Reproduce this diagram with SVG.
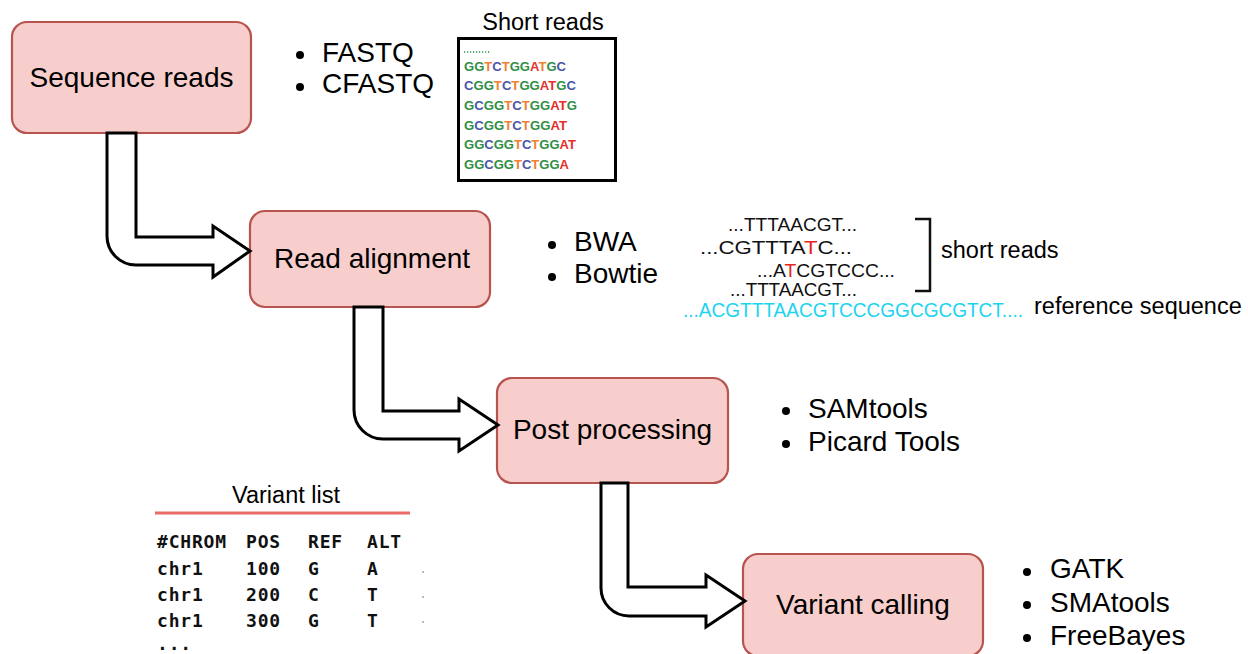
<svg xmlns="http://www.w3.org/2000/svg" width="1248" height="654" viewBox="0 0 1248 654">
<style>
.box{fill:#f8cecc;stroke:#b85450;stroke-width:2.2}
.lbl{font-family:"Liberation Sans",Arial,sans-serif;font-size:28px;fill:#000}
.lblc{text-anchor:middle}
.sm{font-family:"Liberation Sans",Arial,sans-serif;font-size:23.5px;fill:#000}
.arrow{fill:#fff;stroke:#000;stroke-width:3;stroke-linejoin:miter}
.seq{font-family:"Liberation Sans",Arial,sans-serif;font-size:12px;font-weight:bold}
.g{fill:#2f8f45}.t{fill:#f0812f}.c{fill:#4b57a8}.a{fill:#e5302b}
.aln{font-family:"Liberation Sans Narrow","Liberation Sans",Arial,sans-serif;font-size:19px;fill:#111}
.mono{font-family:"DejaVu Sans Mono","Liberation Mono",monospace;font-size:18px;font-weight:bold;letter-spacing:0.8px;fill:#111}
</style>

<g id="node-sequence-reads">
<rect class="box" x="12" y="22" width="239" height="111" rx="15"/>
<text class="lbl lblc" x="131.5" y="87">Sequence reads</text>
</g>
<g id="node-read-alignment">
<rect class="box" x="250" y="211" width="240" height="96" rx="15"/>
<text class="lbl lblc" x="372" y="268">Read alignment</text>
</g>
<g id="node-post-processing">
<rect class="box" x="497" y="378" width="231" height="105" rx="15"/>
<text class="lbl lblc" x="612.5" y="439">Post processing</text>
</g>
<g id="node-variant-calling">
<rect class="box" x="743" y="554" width="240" height="102" rx="15"/>
<text class="lbl lblc" x="863" y="614">Variant calling</text>
</g>

<g id="connectors">
<path class="arrow" d="M136,133 L136,237 L213,237 L213,226 L250,251 L213,277 L213,265 L136,265 A29,29 0 0 1 107,236 L107,133 Z"/>
<path class="arrow" d="M383,307 L383,411 L459,411 L459,399 L498,425 L459,451 L459,439 L383,439 A29,29 0 0 1 354,410 L354,307 Z"/>
<path class="arrow" d="M628,483 L628,587 L706,587 L706,575 L745,601 L706,627 L706,616 L629,616 A28,28 0 0 1 601,588 L601,483 Z"/>
</g>

<g id="bullets-sequence-reads">
<circle cx="300" cy="55" r="4"/><text class="lbl" x="322" y="62">FASTQ</text>
<circle cx="300" cy="87" r="4"/><text class="lbl" x="322" y="93">CFASTQ</text>
</g>
<g id="bullets-read-alignment">
<circle cx="552" cy="245" r="4"/><text class="lbl" x="574" y="251">BWA</text>
<circle cx="552" cy="277" r="4"/><text class="lbl" x="574" y="283">Bowtie</text>
</g>
<g id="bullets-post-processing">
<circle cx="786" cy="411" r="4"/><text class="lbl" x="808" y="418">SAMtools</text>
<circle cx="786" cy="444" r="4"/><text class="lbl" x="808" y="451">Picard Tools</text>
</g>
<g id="bullets-variant-calling">
<circle cx="1027" cy="572" r="4"/><text class="lbl" x="1050" y="578">GATK</text>
<circle cx="1027" cy="605" r="4"/><text class="lbl" x="1050" y="612">SMAtools</text>
<circle cx="1027" cy="638" r="4"/><text class="lbl" x="1050" y="645">FreeBayes</text>
</g>

<g id="short-reads-panel">
<text class="sm" x="543" y="30" text-anchor="middle">Short reads</text>
<rect x="458.5" y="38.5" width="157" height="142" fill="#fff" stroke="#000" stroke-width="3"/>
<line x1="464" y1="52" x2="491" y2="52" stroke="#2f8f45" stroke-width="1.3" stroke-dasharray="1.2,1.8"/>
<text class="seq" x="464" y="70.5" textLength="102" lengthAdjust="spacingAndGlyphs"><tspan class="g">GG</tspan><tspan class="t">T</tspan><tspan class="c">C</tspan><tspan class="t">T</tspan><tspan class="g">GG</tspan><tspan class="a">A</tspan><tspan class="t">T</tspan><tspan class="g">G</tspan><tspan class="c">C</tspan></text>
<text class="seq" x="464" y="90.3" textLength="112" lengthAdjust="spacingAndGlyphs"><tspan class="c">C</tspan><tspan class="g">GG</tspan><tspan class="t">T</tspan><tspan class="c">C</tspan><tspan class="t">T</tspan><tspan class="g">GG</tspan><tspan class="a">AT</tspan><tspan class="g">G</tspan><tspan class="c">C</tspan></text>
<text class="seq" x="464" y="110" textLength="113" lengthAdjust="spacingAndGlyphs"><tspan class="g">G</tspan><tspan class="c">C</tspan><tspan class="g">GG</tspan><tspan class="t">T</tspan><tspan class="c">C</tspan><tspan class="t">T</tspan><tspan class="g">GG</tspan><tspan class="a">AT</tspan><tspan class="g">G</tspan></text>
<text class="seq" x="464" y="129.7" textLength="103" lengthAdjust="spacingAndGlyphs"><tspan class="g">G</tspan><tspan class="c">C</tspan><tspan class="g">GG</tspan><tspan class="t">T</tspan><tspan class="c">C</tspan><tspan class="t">T</tspan><tspan class="g">GG</tspan><tspan class="a">AT</tspan></text>
<text class="seq" x="464" y="149.4" textLength="112" lengthAdjust="spacingAndGlyphs"><tspan class="g">GG</tspan><tspan class="c">C</tspan><tspan class="g">GG</tspan><tspan class="t">T</tspan><tspan class="c">C</tspan><tspan class="t">T</tspan><tspan class="g">GG</tspan><tspan class="a">AT</tspan></text>
<text class="seq" x="464" y="169" textLength="105" lengthAdjust="spacingAndGlyphs"><tspan class="g">GG</tspan><tspan class="c">C</tspan><tspan class="g">GG</tspan><tspan class="t">T</tspan><tspan class="c">C</tspan><tspan class="t">T</tspan><tspan class="g">GG</tspan><tspan class="a">A</tspan></text>
</g>

<g id="alignment-panel">
<text class="aln" x="728" y="231" textLength="129" lengthAdjust="spacingAndGlyphs">...TTTAACGT...</text>
<text class="aln" x="700" y="254" textLength="152" lengthAdjust="spacingAndGlyphs">...CGTTTA<tspan fill="#e8241f">T</tspan>C...</text>
<text class="aln" x="757" y="277" textLength="138" lengthAdjust="spacingAndGlyphs">...A<tspan fill="#e8241f">T</tspan>CGTCCC...</text>
<text class="aln" x="730" y="296" textLength="127" lengthAdjust="spacingAndGlyphs">...TTTAACGT...</text>
<text class="aln" x="683" y="317" textLength="340" lengthAdjust="spacingAndGlyphs" style="fill:#1cd4ef;font-size:20px">...ACGTTTAACGTCCCGGCGCGTCT....</text>
<path d="M915,219 L930,219 L930,291 L915,291" fill="none" stroke="#111" stroke-width="2.5"/>
<text class="sm" x="941" y="258">short reads</text>
<text class="sm" x="1034" y="314">reference sequence</text>
</g>

<g id="variant-list-panel">
<text class="sm" x="286" y="503" text-anchor="middle">Variant list</text>
<line x1="155" y1="513" x2="410" y2="513" stroke="#ea6b66" stroke-width="3"/>
<text class="mono" x="157" y="548">#CHROM</text><text class="mono" x="246" y="548">POS</text><text class="mono" x="308" y="548">REF</text><text class="mono" x="367" y="548">ALT</text>
<text class="mono" x="157" y="574.5">chr1</text><text class="mono" x="246" y="574.5">100</text><text class="mono" x="308" y="574.5">G</text><text class="mono" x="367" y="574.5">A</text>
<text class="mono" x="157" y="601">chr1</text><text class="mono" x="246" y="601">200</text><text class="mono" x="308" y="601">C</text><text class="mono" x="367" y="601">T</text>
<text class="mono" x="157" y="627">chr1</text><text class="mono" x="246" y="627">300</text><text class="mono" x="308" y="627">G</text><text class="mono" x="367" y="627">T</text>
<text class="mono" x="157" y="650">...</text>
<circle cx="423" cy="572" r="0.9" fill="#999"/>
<circle cx="423" cy="597" r="0.9" fill="#999"/>
<circle cx="423" cy="622" r="0.9" fill="#999"/>
</g>
</svg>
